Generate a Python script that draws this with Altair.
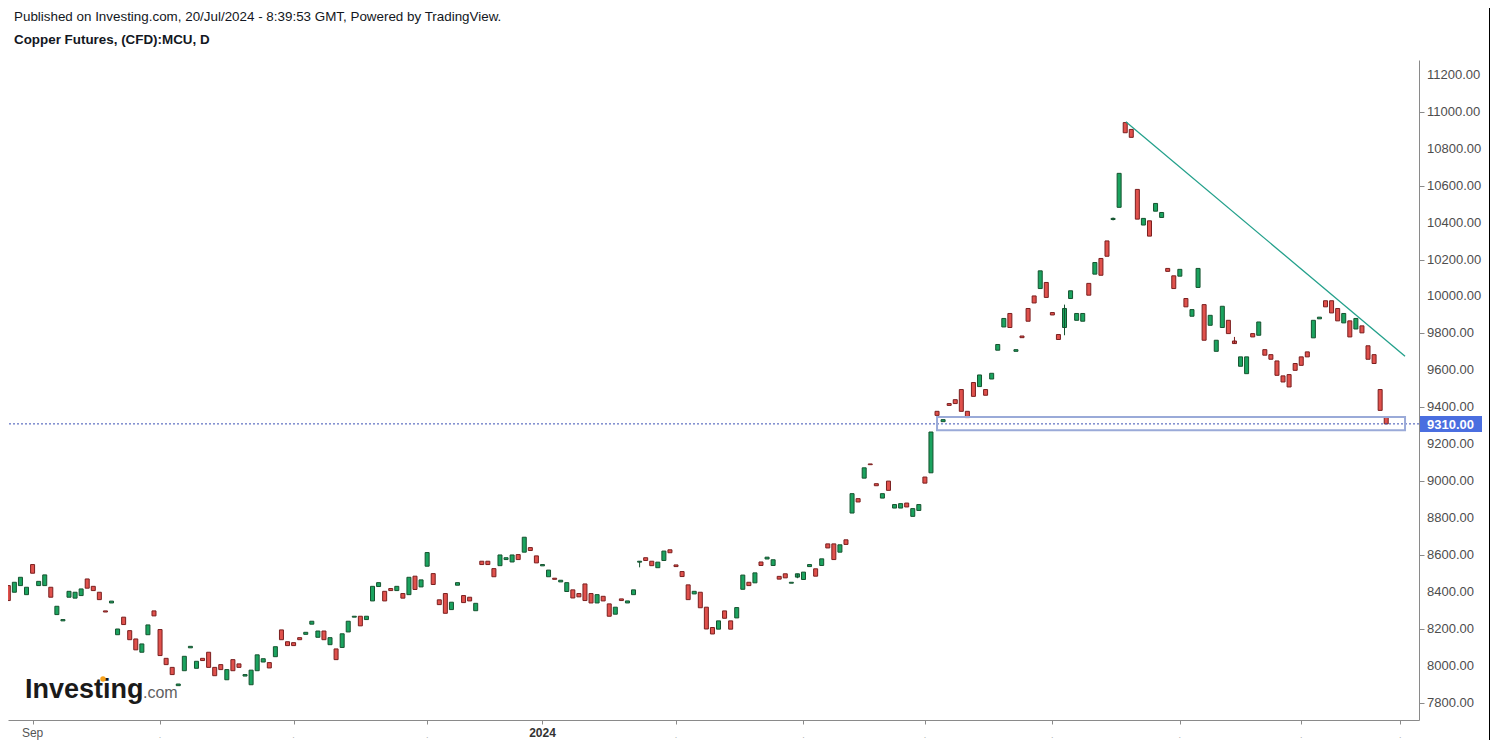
import altair as alt
import pandas as pd

# ---------------- data ----------------
opens = [
    8434, 8398, 8434, 8385, 8548, 8434, 8434, 8425, 8277, 8243,
    8371, 8366, 8380, 8470, 8430, 8398, 8297, 8340, 8168, 8263,
    8190, 8145, 8073, 8168, 8297, 8196, 8040, 7991, 7892, 7973,
    8097, 7986, 8040, 8073, 7991, 8006, 7924, 8033, 8010, 7944,
    7897, 7973, 8020, 8017, 8049, 8194, 8130, 8125, 8152, 8170,
    8225, 8154, 8188, 8114, 8091, 8099, 8183, 8263, 8268, 8250,
    8351, 8429, 8403, 8418, 8407, 8391, 8385, 8485, 8427, 8539,
    8499, 8357, 8391, 8304, 8436, 8380, 8371, 8298, 8566, 8566,
    8526, 8542, 8575, 8562, 8602, 8615, 8640, 8595, 8541, 8482,
    8474, 8454, 8402, 8411, 8391, 8443, 8391, 8340, 8376, 8335,
    8279, 8362, 8340, 8385, 8561, 8585, 8566, 8531, 8570, 8628,
    8546, 8510, 8438, 8389, 8398, 8317, 8207, 8198, 8297, 8243,
    8259, 8414, 8452, 8449, 8562, 8578, 8543, 8484, 8498, 8447,
    8480, 8467, 8537, 8525, 8543, 8660, 8660, 8615, 8682, 8827,
    8905, 9016, 9093, 8986, 8908, 9000, 8854, 8854, 8881, 8809,
    8841, 9022, 9045, 9378, 9322, 9420, 9441, 9496, 9378, 9534,
    9512, 9496, 9553, 9709, 9835, 9908, 9703, 9786, 9935, 10003,
    10043, 10076, 9913, 9794, 9832, 9989, 9871, 9866, 10071, 10121,
    10206, 10301, 10417, 10483, 10942, 10905, 10580, 10387, 10410, 10462,
    10428, 10152, 10112, 10110, 9989, 9893, 10049, 9956, 9844, 9703,
    9832, 9871, 9759, 9622, 9582, 9799, 9790, 9712, 9685, 9651,
    9570, 9577, 9637, 9673, 9700, 9776, 9879, 9977, 9977, 9935,
    9857, 9868, 9824, 9841, 9733, 9685, 9496, 9347,
]
closes = [
    8353, 8452, 8479, 8425, 8501, 8457, 8492, 8371, 8322, 8250,
    8403, 8398, 8416, 8420, 8407, 8358, 8291, 8350, 8199, 8223,
    8141, 8086, 8118, 8221, 8270, 8055, 8006, 7952, 7901, 8051,
    8105, 8024, 8028, 7991, 7946, 7979, 7979, 7973, 7991, 7952,
    7976, 8059, 8038, 7988, 8103, 8141, 8109, 8109, 8141, 8181,
    8241, 8188, 8141, 8152, 8033, 8173, 8241, 8268, 8216, 8268,
    8430, 8450, 8351, 8407, 8430, 8366, 8479, 8413, 8465, 8613,
    8440, 8331, 8284, 8344, 8450, 8342, 8351, 8338, 8548, 8548,
    8482, 8600, 8585, 8600, 8575, 8696, 8624, 8557, 8548, 8518,
    8468, 8463, 8450, 8367, 8373, 8353, 8340, 8385, 8351, 8268,
    8317, 8353, 8351, 8411, 8566, 8570, 8542, 8561, 8621, 8612,
    8537, 8483, 8358, 8403, 8314, 8199, 8172, 8243, 8257, 8198,
    8315, 8491, 8434, 8503, 8543, 8588, 8574, 8469, 8476, 8452,
    8498, 8507, 8548, 8485, 8579, 8638, 8575, 8655, 8657, 8932,
    8887, 9072, 9089, 8975, 8932, 8950, 8873, 8878, 8860, 8851,
    8873, 8989, 9266, 9356, 9333, 9410, 9420, 9378, 9344, 9459,
    9575, 9465, 9584, 9740, 9881, 9832, 9712, 9777, 9866, 9965,
    10139, 9995, 9900, 9767, 9935, 10031, 9908, 9908, 10007, 10184,
    10115, 10218, 10423, 10667, 10887, 10862, 10419, 10423, 10327, 10504,
    10455, 10136, 10043, 10147, 9944, 9929, 10152, 9763, 9898, 9763,
    9947, 9799, 9745, 9673, 9673, 9781, 9862, 9682, 9660, 9573,
    9537, 9510, 9600, 9627, 9673, 9871, 9888, 9944, 9911, 9868,
    9908, 9781, 9881, 9803, 9660, 9637, 9383, 9310,
]

# a few candles whose wicks are visible
wick_idx = [104, 130, 174, 182, 202]
wick_high = [8566, 8498, 9956, 10428, 9781]
wick_low = [8533, 8474, 9790, 10412, 9745]

# bottom axis: bar index of the first trading day of each month
month_tick_idx = [4, 25, 47, 69, 88, 110, 131, 151, 172, 193, 213, 229.3]
month_tick_text = ["Sep", ".", ".", ".", "2024", ".", ".", ".", ".", ".", ".", "."]
month_tick_bold = [False, False, False, False, True, False, False, False, False, False, False, False]

price_ticks = [7800, 8000, 8200, 8400, 8600, 8800, 9000, 9200, 9400,
               9600, 9800, 10000, 10200, 10400, 10600, 10800, 11000, 11200]

trend_i = [184.1, 230.1]
trend_p = [10947, 9676]

box_i, box_i2 = [153.0], [230.1]
box_p, box_p2 = [9347], [9275]

last_price = 9310

header_1 = "Published on Investing.com, 20/Jul/2024 - 8:39:53 GMT, Powered by TradingView."
header_2 = "Copper Futures, (CFD):MCU, D"

# ---------------- build ----------------
FONT = "Liberation Sans"
n = len(opens)
df = pd.DataFrame({"i": list(range(n)), "open": opens, "close": closes})
df["dir"] = ["up" if c >= o else "down" for o, c in zip(opens, closes)]

wdf = pd.DataFrame({"i": wick_idx, "hi": wick_high, "lo": wick_low})
wdf["dir"] = [df.loc[k, "dir"] for k in wick_idx]

xs = alt.Scale(domain=[-0.05, 232.4], nice=False, zero=False, padding=0)
ys = alt.Scale(domain=[7706, 11281], nice=False, zero=False, padding=0)

fill_scale = alt.Scale(domain=["up", "down"], range=["#1ba35f", "#e0514c"])
stroke_scale = alt.Scale(domain=["up", "down"], range=["#15532f", "#7a1f1f"])

x_axis = alt.Axis(values=month_tick_idx, labels=False, ticks=True, tickSize=4,
                  tickColor="#8a8a8a", domainColor="#8a8a8a", grid=False, title=None)
y_axis = alt.Axis(orient="right", values=price_ticks, labels=False, tickSize=5,
                  tickColor="#8a8a8a", domainColor="#8a8a8a", grid=False, title=None)

candles = alt.Chart(df).mark_bar(width=4, strokeWidth=1).encode(
    x=alt.X("i:Q", scale=xs, axis=x_axis),
    y=alt.Y("open:Q", scale=ys, axis=y_axis),
    y2="close:Q",
    fill=alt.Fill("dir:N", scale=fill_scale, legend=None),
    stroke=alt.Stroke("dir:N", scale=stroke_scale, legend=None),
)

wicks = alt.Chart(wdf).mark_rule(strokeWidth=1).encode(
    x=alt.X("i:Q", scale=xs),
    y=alt.Y("hi:Q", scale=ys),
    y2="lo:Q",
    color=alt.Color("dir:N", scale=stroke_scale, legend=None),
)

# right-hand price labels
pl_df = pd.DataFrame({"p": price_ticks, "t": [f"{v:.2f}" for v in price_ticks]})
price_labels = alt.Chart(pl_df).mark_text(
    font=FONT, fontSize=13, color="#4d4d4d", align="left", baseline="middle"
).encode(x=alt.value(1419), y=alt.Y("p:Q", scale=ys), text="t:N")

price_line = alt.Chart(pd.DataFrame({"p": [last_price]})).mark_rule(
    color="#3c50b4", strokeDash=[2, 2], strokeWidth=1
).encode(y=alt.Y("p:Q", scale=ys))

box = alt.Chart(pd.DataFrame({"i": box_i, "i2": box_i2, "p": box_p, "p2": box_p2})).mark_rect(
    fillOpacity=0, stroke="#9aaad8", strokeWidth=2
).encode(x=alt.X("i:Q", scale=xs), x2="i2:Q", y=alt.Y("p:Q", scale=ys), y2="p2:Q")

trend = alt.Chart(pd.DataFrame({"i": trend_i, "p": trend_p})).mark_line(
    color="#23a08b", strokeWidth=1.3
).encode(x=alt.X("i:Q", scale=xs), y=alt.Y("p:Q", scale=ys))

tick_df = pd.DataFrame({"i": month_tick_idx, "t": month_tick_text, "b": month_tick_bold})
tick_normal = alt.Chart(tick_df[(~tick_df.b) & (tick_df.t != ".")]).mark_text(
    font=FONT, fontSize=12, color="#555555", baseline="alphabetic", align="center"
).encode(x=alt.X("i:Q", scale=xs), y=alt.value(677), text="t:N")
tick_dots = alt.Chart(tick_df[tick_df.t == "."]).mark_text(
    font=FONT, fontSize=9, color="#b0b0b0", baseline="alphabetic", align="center"
).encode(x=alt.X("i:Q", scale=xs), y=alt.value(678), text="t:N")
tick_bold = alt.Chart(tick_df[tick_df.b]).mark_text(
    font=FONT, fontSize=12, fontWeight="bold", color="#333333", baseline="alphabetic", align="center"
).encode(x=alt.X("i:Q", scale=xs), y=alt.value(677), text="t:N")

label_bg = alt.Chart(pd.DataFrame({"p": [last_price]})).mark_rect(color="#4a6ee0").encode(
    x=alt.value(1412), x2=alt.value(1474), y=alt.value(356), y2=alt.value(372)
)
label_txt = alt.Chart(pd.DataFrame({"t": [f"{last_price:.2f}"]})).mark_text(
    font=FONT, fontSize=13, fontWeight="bold", color="white", align="left", baseline="middle"
).encode(x=alt.value(1419), y=alt.value(364.5), text="t:N")

border = alt.Chart(pd.DataFrame({"a": [0]})).mark_rule(color="#000000", strokeWidth=1).encode(
    x=alt.value(1481.5), y=alt.value(-52), y2=alt.value(680)
)

head1 = alt.Chart(pd.DataFrame({"t": [header_1]})).mark_text(
    font=FONT, fontSize=13.4, color="#131722", align="left", baseline="middle"
).encode(x=alt.value(6), y=alt.value(-43), text="t:N")
head2 = alt.Chart(pd.DataFrame({"t": [header_2]})).mark_text(
    font=FONT, fontSize=13.4, fontWeight="bold", color="#131722", align="left", baseline="middle"
).encode(x=alt.value(6), y=alt.value(-20), text="t:N")

logo1 = alt.Chart(pd.DataFrame({"t": ["Investing"]})).mark_text(
    font=FONT, fontSize=27, fontWeight="bold", color="#1a1a1a", align="left", baseline="alphabetic"
).encode(x=alt.value(17), y=alt.value(638), text="t:N")
logo2 = alt.Chart(pd.DataFrame({"t": [".com"]})).mark_text(
    font=FONT, fontSize=16, color="#5f5f5f", align="left", baseline="alphabetic"
).encode(x=alt.value(135), y=alt.value(638), text="t:N")
logo_dot = alt.Chart(pd.DataFrame({"t": ["o"]})).mark_point(
    filled=True, shape="circle", size=30, color="#f6a11c", opacity=1
).encode(x=alt.value(95), y=alt.value(619))

chart = alt.layer(
    candles, wicks, price_line, box, trend, price_labels,
    tick_normal, tick_dots, tick_bold,
    label_bg, label_txt, border, head1, head2, logo1, logo2, logo_dot,
).properties(
    width=1411, height=660,
    autosize=alt.AutoSizeParams(type="none"),
    padding={"left": 0, "top": 52, "right": 71, "bottom": 20},
    background="white",
).configure(font=FONT).configure_view(stroke=None)

chart.save("out.html", embed_options={"renderer": "svg", "actions": False})
